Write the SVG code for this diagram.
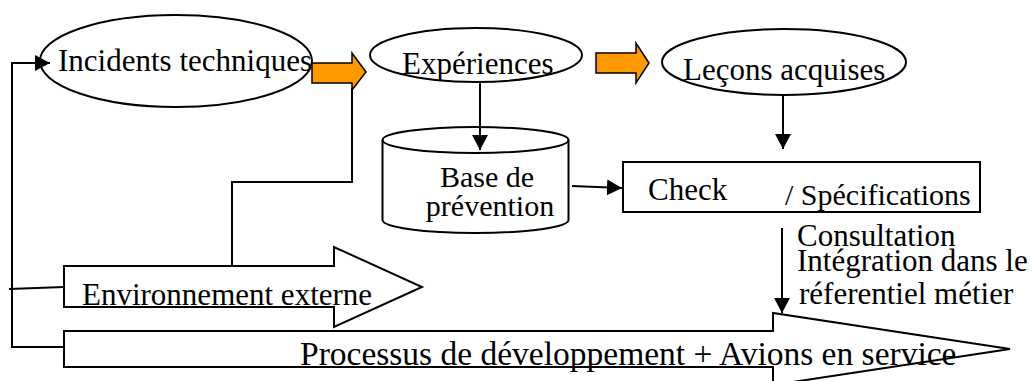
<svg xmlns="http://www.w3.org/2000/svg" width="1033" height="381" viewBox="0 0 1033 381">
<defs>
<style>
.t{font-family:"Liberation Serif","Times New Roman",serif;font-size:31px;fill:#000}
.s{fill:#fff;stroke:#000;stroke-width:2}
.c{fill:none;stroke:#000;stroke-width:2}
.o{fill:#FF9900;stroke:#000;stroke-width:1.5}
</style>
<marker id="ah" markerUnits="userSpaceOnUse" markerWidth="16" markerHeight="16" refX="15" refY="8" orient="auto">
<path d="M0,0 L15,8 L0,16 z" fill="#000"/>
</marker>
</defs>
<g id="env">
<path class="s" d="M64,266 L334,266 L334,247 L422,287 L334,327 L334,307 L64,307 Z"/>
<text class="t" x="82" y="305">Environnement externe</text>
</g>
<g id="proc">
<path class="s" d="M64,331 L773,331 L773,313 L1010,349 L773,385 L773,367 L64,367 Z"/>
<text class="t" x="300" y="365" style="font-size:33.5px">Processus de développement + Avions en service</text>
</g>
<g id="incidents">
<ellipse class="s" cx="176" cy="61" rx="136" ry="46"/>
<text class="t" x="58" y="71">Incidents techniques</text>
</g>
<g id="experiences">
<ellipse class="s" cx="476" cy="55" rx="106" ry="27"/>
<text class="t" x="402" y="74">Expériences</text>
</g>
<g id="lecons">
<ellipse class="s" cx="784" cy="62" rx="122" ry="33"/>
<text class="t" x="683" y="80">Leçons acquises</text>
</g>
<g id="base">
<path class="s" d="M382.5,140 L382.5,220 A93,13 0 0 0 568.5,220 L568.5,140 A93,13 0 0 0 382.5,140 Z"/>
<path class="c" d="M382.5,140 A93,13 0 0 0 568.5,140"/>
<text class="t" x="487" y="187" text-anchor="middle" style="font-size:30px">Base de</text>
<text class="t" x="490" y="216" text-anchor="middle" style="font-size:30px">prévention</text>
</g>
<g id="check">
<rect class="s" x="623" y="162" width="357" height="50"/>
<text class="t" x="648" y="200">Check</text>
<text class="t" x="785" y="205" style="font-size:30px">/ Spécifications</text>
</g>
<g id="consult">
<text class="t" x="797" y="246">Consultation</text>
<text class="t" x="797" y="271">Intégration dans le</text>
<text class="t" x="799" y="304">réferentiel métier</text>
</g>
<g id="orange1"><path class="o" d="M312,63 L352,63 L352,53 L366,72 L352,90 L352,83 L312,83 Z"/></g>
<g id="orange2"><path class="o" d="M596,53 L636,53 L636,43 L649,63 L636,83 L636,73 L596,73 Z"/></g>
<g id="connectors">
<path class="c" d="M232,266 L232,182 L352,182 L352,88"/>
<path class="c" d="M64,347 L12,347 L12,63 L50,63" marker-end="url(#ah)"/>
<path class="c" d="M9,289 L64,287"/>
<path class="c" d="M480,82 L480,150" marker-end="url(#ah)"/>
<path class="c" d="M783,95 L783,149" marker-end="url(#ah)"/>
<path class="c" stroke-width="3" d="M572,186 L622,188" marker-end="url(#ah)"/>
<path class="c" d="M782,228 L782,313" marker-end="url(#ah)"/>
</g>
</svg>
